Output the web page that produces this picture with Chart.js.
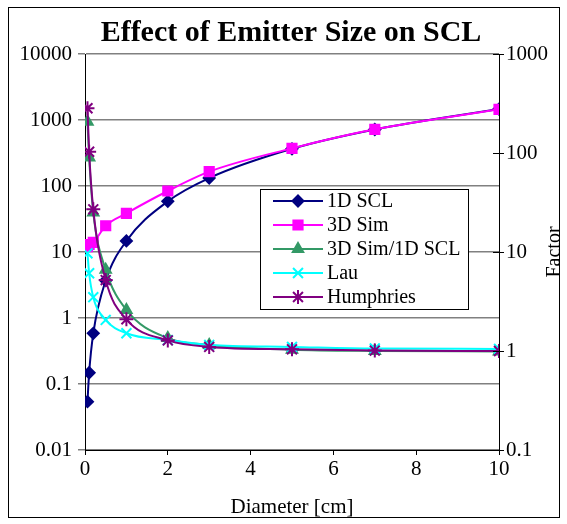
<!DOCTYPE html>
<html>
<head>
<meta charset="utf-8">
<script src="https://cdn.jsdelivr.net/npm/chart.js@4.4.1/dist/chart.umd.min.js"></script>
<style>
  html, body { margin: 0; padding: 0; background: #fff; }
  canvas { display: block; }
</style>
</head>
<body>
<canvas id="myChart" width="567" height="524"></canvas>
<script>
const diameters = [0.06, 0.1, 0.2, 0.5, 1, 2, 3, 5, 7, 10];
const scl1d = [0.054, 0.148, 0.586, 3.7, 14.7, 58.6, 132, 366, 718, 1465];
const sim3d = [12, 13, 14, 25, 38.5, 84, 165, 372, 723, 1450];
const simRatio = [207, 90, 25, 6.6, 2.6, 1.35, 1.15, 1.03, 1.0, 0.99];
const lau = [9.7, 6.1, 3.5, 2.06, 1.51, 1.29, 1.15, 1.1, 1.06, 1.05];
const humphries = [283, 103, 27, 5.2, 2.09, 1.28, 1.1, 1.04, 1.01, 1.0];

const leftTicks = [0.01, 0.1, 1, 10, 100, 1000, 10000];
const leftLabels = ['0.01', '0.1', '1', '10', '100', '1000', '10000'];
const rightTicks = [0.1, 1, 10, 100, 1000];
const rightLabels = ['0.1', '1', '10', '100', '1000'];
const xTicks = [0, 2, 4, 6, 8, 10];

const chartTitle = 'Effect of Emitter Size on SCL';
const rightTitle = 'Factor';
const serif = '"Liberation Serif", "Times New Roman", serif';

const toPoints = (values) => values.map((v, i) => ({ x: diameters[i], y: v }));

const series = (label, values, axis, color, style, radius, order) => ({
    label: label,
    data: toPoints(values),
    yAxisID: axis,
    borderColor: color,
    backgroundColor: color,
    borderWidth: 2,
    pointStyle: style,
    pointRadius: radius,
    pointBorderWidth: 2,
    pointBorderColor: color,
    pointBackgroundColor: color,
    cubicInterpolationMode: 'monotone',
    fill: false,
    order: order
});

const datasets = [
    series('1D SCL', scl1d, 'y', '#000080', 'rectRot', 5.5, 5),
    series('3D Sim', sim3d, 'y', '#ff00ff', 'rect', 6.5, 4),
    series('3D Sim/1D SCL', simRatio, 'y2', '#339966', 'triangle', 6, 3),
    series('Lau', lau, 'y2', '#00ffff', 'crossRot', 7, 2),
    series('Humphries', humphries, 'y2', '#800080', 'star', 7, 1)
];

const decorations = {
    id: 'decorations',
    beforeDraw(chart) {
        const ctx = chart.ctx;
        ctx.save();
        ctx.fillStyle = '#fff';
        ctx.fillRect(0, 0, chart.width, chart.height);
        ctx.restore();
    },
    afterDraw(chart) {
        const ctx = chart.ctx;
        const area = chart.chartArea;
        ctx.save();
        // outer frame
        ctx.strokeStyle = '#000';
        ctx.lineWidth = 1;
        ctx.strokeRect(8.5, 7.5, 551, 510);

        // title
        ctx.fillStyle = '#000';
        ctx.font = 'bold 30px ' + serif;
        ctx.textAlign = 'center';
        ctx.textBaseline = 'middle';
        ctx.fillText(chartTitle, 291, 33);

        // right axis title, reading bottom to top
        ctx.save();
        ctx.translate(555, 252);
        ctx.rotate(-Math.PI / 2);
        ctx.font = '20px ' + serif;
        ctx.fillText(rightTitle, 0, 0);
        ctx.restore();

        // inner ticks of the right axis
        const y2 = chart.scales.y2;
        ctx.strokeStyle = '#000';
        rightTicks.forEach((v) => {
            const py = Math.round(y2.getPixelForValue(v)) + 0.5;
            ctx.beginPath();
            ctx.moveTo(area.right - 6, py);
            ctx.lineTo(area.right, py);
            ctx.stroke();
        });

        // legend box
        const box = { x: 260.5, y: 189.5, w: 208, h: 120 };
        ctx.fillStyle = '#fff';
        ctx.fillRect(box.x, box.y, box.w, box.h);
        ctx.strokeStyle = '#000';
        ctx.strokeRect(box.x, box.y, box.w, box.h);
        ctx.font = '20px ' + serif;
        ctx.textAlign = 'left';
        ctx.textBaseline = 'middle';
        chart.data.datasets.forEach((ds, i) => {
            const cy = 201 + i * 24;
            ctx.strokeStyle = ds.borderColor;
            ctx.lineWidth = 2;
            ctx.beginPath();
            ctx.moveTo(273, cy);
            ctx.lineTo(323, cy);
            ctx.stroke();
            ctx.fillStyle = ds.borderColor;
            Chart.helpers.drawPoint(ctx, {
                pointStyle: ds.pointStyle,
                radius: ds.pointRadius,
                rotation: 0,
                borderWidth: 2
            }, 298, cy);
            ctx.fillStyle = '#000';
            ctx.fillText(ds.label, 327, cy + 1);
        });
        ctx.restore();
    }
};

new Chart(document.getElementById('myChart'), {
    type: 'line',
    data: { datasets: datasets },
    plugins: [decorations],
    options: {
        responsive: false,
        animation: false,
        layout: { padding: { top: 54, left: 0, right: 0, bottom: 0 } },
        plugins: {
            legend: { display: false },
            tooltip: { enabled: false },
            title: { display: false }
        },
        scales: {
            x: {
                type: 'linear',
                min: 0,
                max: 10,
                afterBuildTicks: (scale) => { scale.ticks = xTicks.map((v) => ({ value: v })); },
                afterFit: (scale) => { scale.height = 74; },
                grid: { drawOnChartArea: false, drawTicks: true, tickLength: 5, color: '#000' },
                border: { color: '#000', width: 1 },
                ticks: { color: '#000', padding: 2, font: { family: serif, size: 21 } },
                title: {
                    display: true,
                    text: 'Diameter [cm]',
                    color: '#000',
                    padding: { top: 0, bottom: 4 },
                    font: { family: serif, size: 21 }
                }
            },
            y: {
                type: 'logarithmic',
                position: 'left',
                min: 0.01,
                max: 10000,
                afterBuildTicks: (scale) => { scale.ticks = leftTicks.map((v) => ({ value: v })); },
                afterFit: (scale) => { scale.width = 85; },
                grid: { color: '#808080', lineWidth: 1.5, tickLength: 7 },
                border: { color: '#000', width: 1 },
                ticks: {
                    color: '#000',
                    padding: 6,
                    font: { family: serif, size: 21 },
                    callback: (value) => leftLabels[leftTicks.indexOf(value)]
                }
            },
            y2: {
                type: 'logarithmic',
                position: 'right',
                min: 0.1,
                max: 1000,
                afterBuildTicks: (scale) => { scale.ticks = rightTicks.map((v) => ({ value: v })); },
                afterFit: (scale) => { scale.width = 68; },
                grid: { drawOnChartArea: false, tickLength: 5, color: '#000' },
                border: { color: '#000', width: 1 },
                ticks: {
                    color: '#000',
                    padding: 2,
                    font: { family: serif, size: 21 },
                    callback: (value) => rightLabels[rightTicks.indexOf(value)]
                }
            }
        }
    }
});
</script>
</body>
</html>
